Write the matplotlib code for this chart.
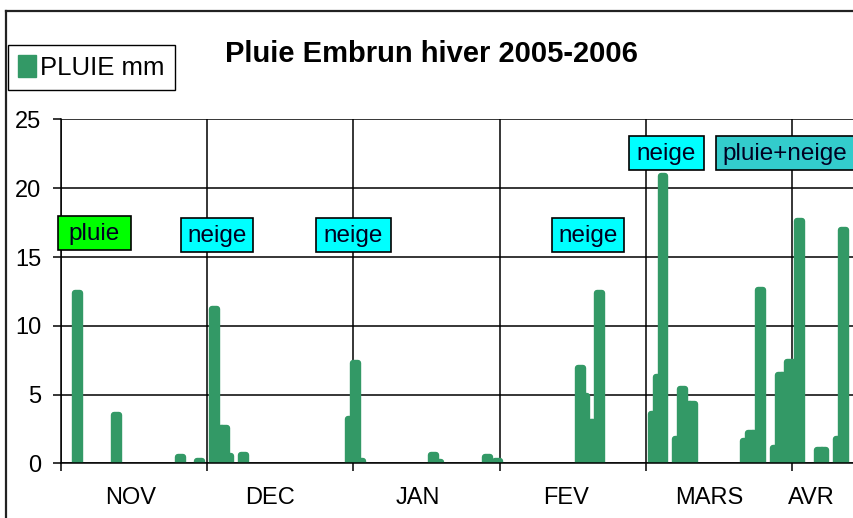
import matplotlib.pyplot as plt
from matplotlib.patches import Rectangle, Patch
from matplotlib.lines import Line2D

plt.rcParams['font.family'] = ['Liberation Sans', 'DejaVu Sans']

# pluie journaliere (jour compte depuis le debut de l'axe, mm)
jours = [3, 11, 24, 28,
         31, 32, 33, 34, 37,
         59, 60, 61, 76, 77, 87, 89,
         106, 107, 108, 109, 110,
         121, 122, 123, 126, 127, 128, 129,
         140, 141, 142, 143, 146, 147, 148, 149, 150, 151,
         155, 156, 159, 160]
pluie = [12.4, 3.5, 0.45, 0.15,
         11.2, 2.6, 2.6, 0.5, 0.6,
         3.2, 7.3, 0.15, 0.6, 0.1, 0.45, 0.15,
         6.9, 4.9, 3.0, 3.0, 12.4,
         3.6, 6.3, 20.9, 1.8, 5.4, 4.3, 4.3,
         1.6, 2.2, 2.2, 12.6, 1.1, 6.4, 6.4, 7.4, 7.4, 17.6,
         1.0, 1.0, 1.75, 17.0]

mois = ['NOV', 'DEC', 'JAN', 'FEV', 'MARS', 'AVR']
mois_pos = [14.4, 42.9, 73.3, 103.7, 132.9, 154.0]
grille_x = [0, 30, 60, 90, 120, 150]

# etiquettes: texte, couleur de fond
etiquettes = ['pluie', 'neige', 'neige', 'neige', 'neige', 'pluie+neige']
couleurs_etiq = ['#00ff00', '#00ffff', '#00ffff', '#00ffff', '#00ffff', '#33cccc']
# boites en pixels (gauche, haut, droite, bas)
boites = [(58, 216, 131, 250), (181, 218, 253, 252), (316, 218, 391, 252),
          (552, 218, 624, 252), (629, 136, 704, 170), (716, 136, 860, 170)]

W, H = 854, 518
vert = '#339966'


def fx(px):
    return px / W


def fy(py):
    return 1 - py / H


fig = plt.figure(figsize=(W / 100, H / 100), dpi=100)
ax = fig.add_axes([fx(60.7), fy(463.3), fx(W - 60.7), (463.3 - 119.5) / H])

ax.bar(jours, pluie, width=1.0, align='edge', color=vert, edgecolor=vert,
       linewidth=4.6, joinstyle='round', zorder=2)

ax.set_xlim(0, (W - 60.7) / 4.877)
ax.set_ylim(0, 25)
ax.set_yticks(range(0, 26, 5))
ax.set_xticks(grille_x)
ax.set_xticklabels([])
ax.set_xticks(mois_pos, minor=True)
ax.set_xticklabels(mois, minor=True)
ax.set_axisbelow(True)
ax.grid(True, which='major', color='black', linewidth=1.1)
ax.tick_params(axis='both', which='major', direction='out', length=6,
               width=1.1, labelsize=17, pad=8)
ax.tick_params(axis='x', which='minor', length=0, labelsize=17, pad=17)
for s in ['top', 'right']:
    ax.spines[s].set_visible(False)
for s in ['left', 'bottom']:
    ax.spines[s].set_linewidth(1.1)

# cadre exterieur du graphique
fig.add_artist(Line2D([fx(6), fx(6)], [0, fy(10.6)], color='#222222', lw=1.6))
fig.add_artist(Line2D([fx(6), 1], [fy(10.6), fy(10.6)], color='#222222', lw=1.6))

fig.text(fx(431), fy(62), 'Pluie Embrun hiver 2005-2006', ha='center',
         va='baseline', fontsize=21, fontweight='bold')

fig.legend(handles=[Patch(facecolor=vert, edgecolor=vert)], labels=['PLUIE mm'],
           loc='upper left', bbox_to_anchor=(fx(8), fy(45)), borderaxespad=0,
           fontsize=18.5, fancybox=False, edgecolor='black', framealpha=1,
           handlelength=0.7, handleheight=0.9, handletextpad=0.15,
           borderpad=0.4)

for txt, col, (x0, y0, x1, y1) in zip(etiquettes, couleurs_etiq, boites):
    fig.add_artist(Rectangle((fx(x0), fy(y1)), fx(x1 - x0), (y1 - y0) / H,
                             transform=fig.transFigure, facecolor=col,
                             edgecolor='black', linewidth=1.2))
    fig.text(fx((x0 + min(x1, W)) / 2), fy((y0 + y1) / 2 + 1), txt,
             ha='center', va='center', fontsize=17.5, color='#000022')

fig.savefig('out.png', dpi=100)
